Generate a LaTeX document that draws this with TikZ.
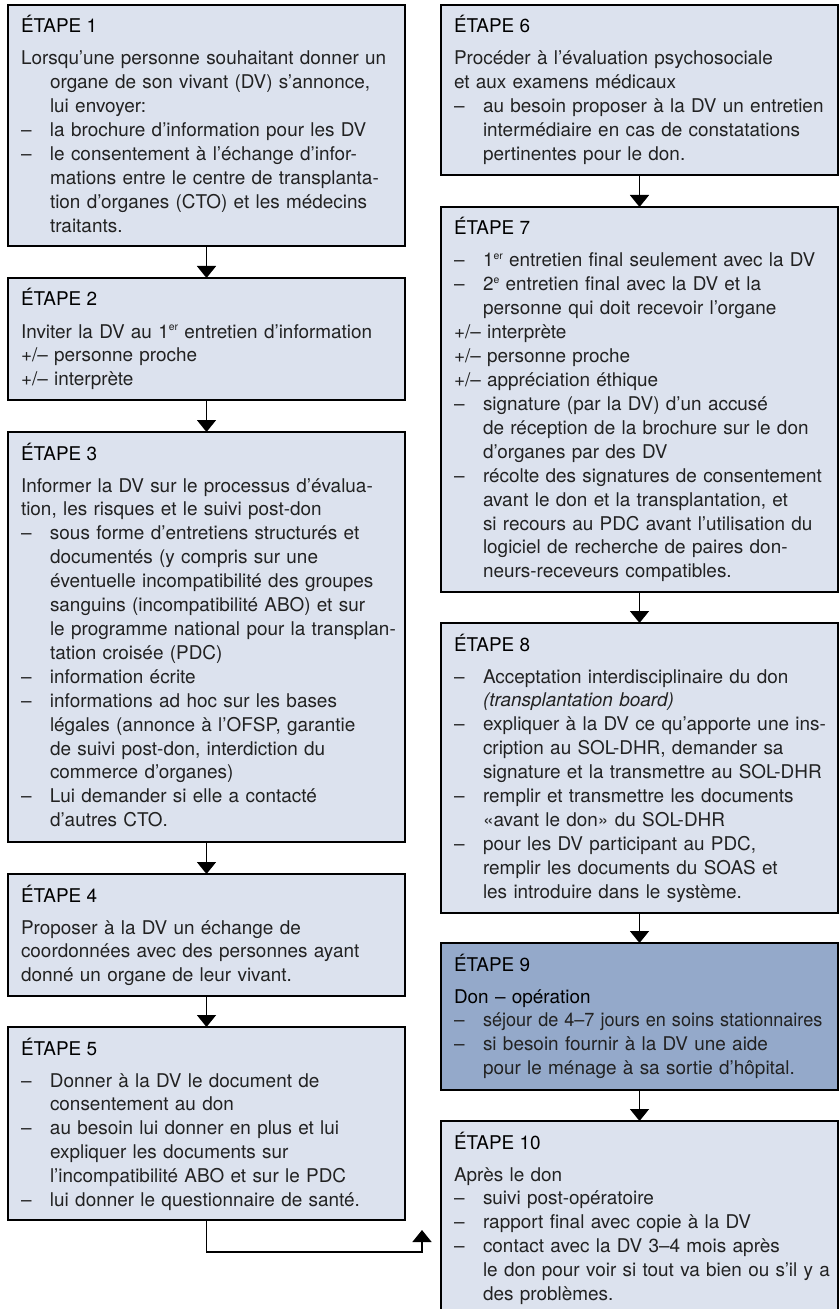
\documentclass[tikz,border=0pt]{standalone}
\usepackage{fontspec}
\usepackage{graphicx}
\setmainfont{TeX Gyre Heros}
\usetikzlibrary{arrows.meta}
\definecolor{boxfill}{HTML}{DCE2EE}
\definecolor{boxdark}{HTML}{94A9CA}
\definecolor{txt}{HTML}{222222}
\newcommand{\dsh}{\makebox[29bp][l]{–}}
\newcommand{\hng}{\hspace*{29bp}}
\newcommand{\sups}[1]{\raisebox{0.37em}{\fontsize{10.5}{10.5}\selectfont #1}}
\begin{document}
\begin{tikzpicture}[x=1bp,y=-1bp,
  stepbox/.style={draw=black, line width=2bp, fill=boxfill, inner sep=0pt, outer sep=0pt, anchor=north west, minimum width=397bp},
  darkbox/.style={stepbox, fill=boxdark},
  hdr/.style={anchor=base west, inner sep=0pt, outer sep=0pt, text=black, font=\fontsize{19}{24}\selectfont},
  body/.style={anchor=base west, inner sep=0pt, outer sep=0pt, text=txt, align=left, text width=400bp, font=\fontsize{19}{24}\selectfont},
  arr/.style={line width=1.6bp, -{Triangle[width=19bp,length=12bp]}}
]
\useasboundingbox (0,0) rectangle (839,1309);
\clip (0,0) rectangle (839,1309);

% left column
\node[stepbox, minimum height=241bp] (s1) at (8,5) {};
\node[hdr] (h1) at (21,33) {ÉTAPE 1};
\node[body] (b1) at (21,65) {Lorsqu’une personne souhaitant donner un\\
\hng organe de son vivant (DV) s’annonce,\\
\hng lui envoyer:\\
\dsh la brochure d’information pour les DV\\
\dsh le consentement à l’échange d’infor-\\
\hng mations entre le centre de transplanta-\\
\hng tion d’organes (CTO) et les médecins\\
\hng traitants.};

\node[stepbox, minimum height=122bp] (s2) at (8,278) {};
\node[hdr] (h2) at (21,306) {ÉTAPE 2};
\node[body] (b2) at (21,338) {Inviter la DV au 1\sups{er} entretien d’information\\
+/– personne proche\\
+/– interprète};

\node[stepbox, minimum height=410bp] (s3) at (8,432) {};
\node[hdr] (h3) at (21,460) {ÉTAPE 3};
\node[body] (b3) at (21,492) {Informer la DV sur le processus d’évalua-\\
tion, les risques et le suivi post-don\\
\dsh sous forme d’entretiens structurés et\\
\hng documentés (y compris sur une\\
\hng éventuelle incompatibilité des groupes\\
\hng sanguins (incompatibilité ABO) et sur\\
\hng le programme national pour la transplan-\\
\hng tation croisée (PDC)\\
\dsh information écrite\\
\dsh informations ad hoc sur les bases\\
\hng légales (annonce à l’OFSP, garantie\\
\hng de suivi post-don, interdiction du\\
\hng commerce d’organes)\\
\dsh Lui demander si elle a contacté\\
\hng d’autres CTO.};

\node[stepbox, minimum height=122bp] (s4) at (8,874) {};
\node[hdr] (h4) at (21,902) {ÉTAPE 4};
\node[body] (b4) at (21,934) {Proposer à la DV un échange de\\
coordonnées avec des personnes ayant\\
donné un organe de leur vivant.};

\node[stepbox, minimum height=193bp] (s5) at (8,1027) {};
\node[hdr] (h5) at (21,1055) {ÉTAPE 5};
\node[body] (b5) at (21,1087) {\dsh Donner à la DV le document de\\
\hng consentement au don\\
\dsh au besoin lui donner en plus et lui\\
\hng expliquer les documents sur\\
\hng l’incompatibilité ABO et sur le PDC\\
\dsh lui donner le questionnaire de santé.};

% right column
\node[stepbox, minimum height=170bp] (s6) at (441,5) {};
\node[hdr] (h6) at (454,33) {ÉTAPE 6};
\node[body] (b6) at (454,65) {Procéder à l’évaluation psychosociale\\
et aux examens médicaux\\
\dsh au besoin proposer à la DV un entretien\\
\hng intermédiaire en cas de constatations\\
\hng pertinentes pour le don.};

\node[stepbox, minimum height=385bp] (s7) at (441,207) {};
\node[hdr] (h7) at (454,235) {ÉTAPE 7};
\node[body] (b7) at (454,267) {\dsh 1\sups{er} entretien final seulement avec la DV\\
\dsh 2\sups{e} entretien final avec la DV et la\\
\hng personne qui doit recevoir l’organe\\
+/– interprète\\
+/– personne proche\\
+/– appréciation éthique\\
\dsh signature (par la DV) d’un accusé\\
\hng de réception de la brochure sur le don\\
\hng d’organes par des DV\\
\dsh récolte des signatures de consentement\\
\hng avant le don et la transplantation, et\\
\hng si recours au PDC avant l’utilisation du\\
\hng logiciel de recherche de paires don-\\
\hng neurs-receveurs compatibles.};

\node[stepbox, minimum height=290bp] (s8) at (441,623) {};
\node[hdr] (h8) at (454,651) {ÉTAPE 8};
\node[body] (b8) at (454,683) {\dsh Acceptation interdisciplinaire du don\\
\hng \textit{(transplantation board)}\\
\dsh expliquer à la DV ce qu’apporte une ins-\\
\hng cription au SOL-DHR, demander sa\\
\hng signature et la transmettre au SOL-DHR\\
\dsh remplir et transmettre les documents\\
\hng «avant le don» du SOL-DHR\\
\dsh pour les DV participant au PDC,\\
\hng remplir les documents du SOAS et\\
\hng les introduire dans le système.};

\node[darkbox, minimum height=147bp] (s9) at (441,943) {};
\node[hdr] (h9) at (454,971) {ÉTAPE 9};
\node[body] (b9) at (454,1003) {\textcolor{black}{Don – opération}\\
\dsh \scalebox{0.955}[1]{séjour de 4–7 jours en soins stationnaires}\\
\dsh si besoin fournir à la DV une aide\\
\hng pour le ménage à sa sortie d’hôpital.};

\node[stepbox, minimum height=194bp] (s10) at (441,1121) {};
\node[hdr] (h10) at (454,1149) {ÉTAPE 10};
\node[body] (b10) at (454,1181) {Après le don\\
\dsh suivi post-opératoire\\
\dsh rapport final avec copie à la DV\\
\dsh contact avec la DV 3–4 mois après\\
\hng le don pour voir si tout va bien ou s’il y a\\
\hng des problèmes.};

% connectors
\draw[arr] (s1.south) -- (s2.north);
\draw[arr] (s2.south) -- (s3.north);
\draw[arr] (s3.south) -- (s4.north);
\draw[arr] (s4.south) -- (s5.north);
\draw[arr] (s6.south) -- (s7.north);
\draw[arr] (s7.south) -- (s8.north);
\draw[arr] (s8.south) -- (s9.north);
\draw[arr] (s9.south) -- (s10.north);
\coordinate (k5) at (0,1252);
\coordinate (e10) at (422,1230);
\draw[arr] (s5.south) -- (s5.south |- k5) -| (e10);
\end{tikzpicture}
\end{document}
